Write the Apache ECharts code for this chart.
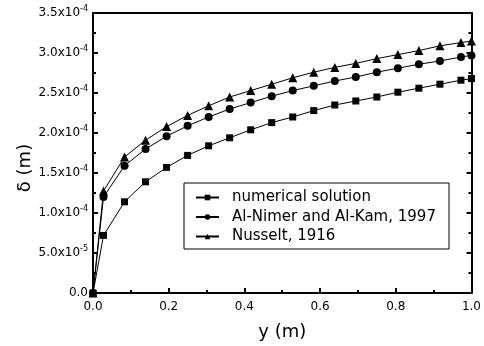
<!DOCTYPE html>
<html><head><meta charset="utf-8">
<script src="https://cdn.jsdelivr.net/npm/echarts@6/dist/echarts.min.js"></script>
<style>html,body{margin:0;padding:0;background:#fff}#c{width:484px;height:346px}</style>
</head><body><div id="c"></div>
<script>
var xValues = [0, 0.0278, 0.0833, 0.1389, 0.1944, 0.25, 0.3056, 0.3611, 0.4167, 0.4722, 0.5278, 0.5833, 0.6389, 0.6944, 0.75, 0.8056, 0.8611, 0.9167, 0.9722, 1.0];
var numerical = [0, 0.72, 1.14, 1.39, 1.57, 1.72, 1.84, 1.94, 2.04, 2.13, 2.20, 2.28, 2.35, 2.40, 2.45, 2.51, 2.56, 2.61, 2.66, 2.68];
var alNimer = [0, 1.20, 1.59, 1.80, 1.96, 2.09, 2.20, 2.30, 2.38, 2.46, 2.53, 2.59, 2.65, 2.70, 2.76, 2.81, 2.86, 2.90, 2.95, 2.97];
var nusselt = [0, 1.275, 1.70, 1.91, 2.08, 2.22, 2.34, 2.45, 2.53, 2.61, 2.69, 2.76, 2.82, 2.87, 2.93, 2.98, 3.03, 3.09, 3.13, 3.15];
var valueScale = 1e-4;
var seriesNames = ['numerical solution', 'Al-Nimer and Al-Kam, 1997', 'Nusselt, 1916'];
var xTickLabels = ['0.0', '0.2', '0.4', '0.6', '0.8', '1.0'];

function pairs(ys) { return xValues.map(function (x, i) { return [x, ys[i] * valueScale]; }); }
function yLabel(v) {
  if (Math.abs(v) < 1e-12) return '{a|0.0}';
  var e = Math.floor(Math.log10(v) + 1e-9);
  var m = v / Math.pow(10, e);
  return '{a|' + m.toFixed(1) + 'x10}{s|' + e + '}';
}
var font = 'DejaVu Sans, sans-serif';
var chart = echarts.init(document.getElementById('c'), null, { renderer: 'canvas' });
var lineStyle = { color: '#000', width: 1 };
function mk(name, ys, sym, size) {
  return { name: name, type: 'line', data: pairs(ys), symbol: sym, symbolSize: size,
    itemStyle: { color: '#000' }, lineStyle: lineStyle, clip: false, animation: false };
}
chart.setOption({
  animation: false,
  grid: { left: 93, right: 7, top: 13, bottom: 53 },
  xAxis: [{
    type: 'value', min: 0, max: 1, interval: 0.2,
    name: 'y (m)', nameLocation: 'middle', nameGap: 30,
    nameTextStyle: { fontFamily: font, fontSize: 18, color: '#000' },
    axisLine: { lineStyle: { color: '#000', width: 2 } },
    axisTick: { inside: true, length: 5, lineStyle: { color: '#000', width: 2 } },
    minorTick: { show: true, splitNumber: 2, length: 3, lineStyle: { color: '#000', width: 2 } },
    axisLabel: { fontFamily: font, fontSize: 12, color: '#000', margin: 8,
      formatter: function (v) { return xTickLabels[Math.round(v / 0.2)]; } },
    splitLine: { show: false }
  }, {
    type: 'value', min: 0, max: 1, position: 'top',
    axisLine: { show: true, onZero: false, lineStyle: { color: '#000', width: 2 } },
    axisTick: { show: false }, axisLabel: { show: false }, splitLine: { show: false }
  }],
  yAxis: [{
    type: 'value', min: 0, max: 3.5e-4, interval: 0.5e-4,
    axisLine: { show: true, lineStyle: { color: '#000', width: 2 } },
    axisTick: { inside: true, length: 5, lineStyle: { color: '#000', width: 2 } },
    minorTick: { show: true, splitNumber: 2, length: 3, lineStyle: { color: '#000', width: 2 } },
    axisLabel: { margin: 5, formatter: yLabel,
      rich: { a: { fontFamily: font, fontSize: 12, color: '#000' },
              s: { fontFamily: font, fontSize: 8, color: '#000', padding: [0, 0, 8, 0] } } },
    splitLine: { show: false }
  }, {
    type: 'value', min: 0, max: 3.5e-4, interval: 0.5e-4, position: 'right',
    axisLine: { show: true, onZero: false, lineStyle: { color: '#000', width: 2 } },
    axisTick: { inside: true, length: 5, lineStyle: { color: '#000', width: 2 } },
    minorTick: { show: true, splitNumber: 2, length: 3, lineStyle: { color: '#000', width: 2 } },
    axisLabel: { show: false }, splitLine: { show: false }
  }],
  legend: {
    orient: 'vertical', left: 184, top: 183,
    backgroundColor: '#fff', borderColor: '#000', borderWidth: 1,
    padding: [7, 6, 5, 11], itemGap: 4.5, itemWidth: 23, itemHeight: 7,
    textStyle: { fontFamily: font, fontSize: 15, lineHeight: 15, color: '#000', padding: [0, 0, 0, 8], width: 211 },
    data: seriesNames
  },
  graphic: [{
    type: 'text', x: 25, y: 168, rotation: Math.PI / 2,
    style: { text: 'δ (m)', font: '18px ' + font, fill: '#000', align: 'center', verticalAlign: 'middle' }
  }],
  series: [
    mk(seriesNames[0], numerical, 'rect', 7),
    mk(seriesNames[1], alNimer, 'circle', 8),
    mk(seriesNames[2], nusselt, 'triangle', 9)
  ]
});
</script></body></html>
